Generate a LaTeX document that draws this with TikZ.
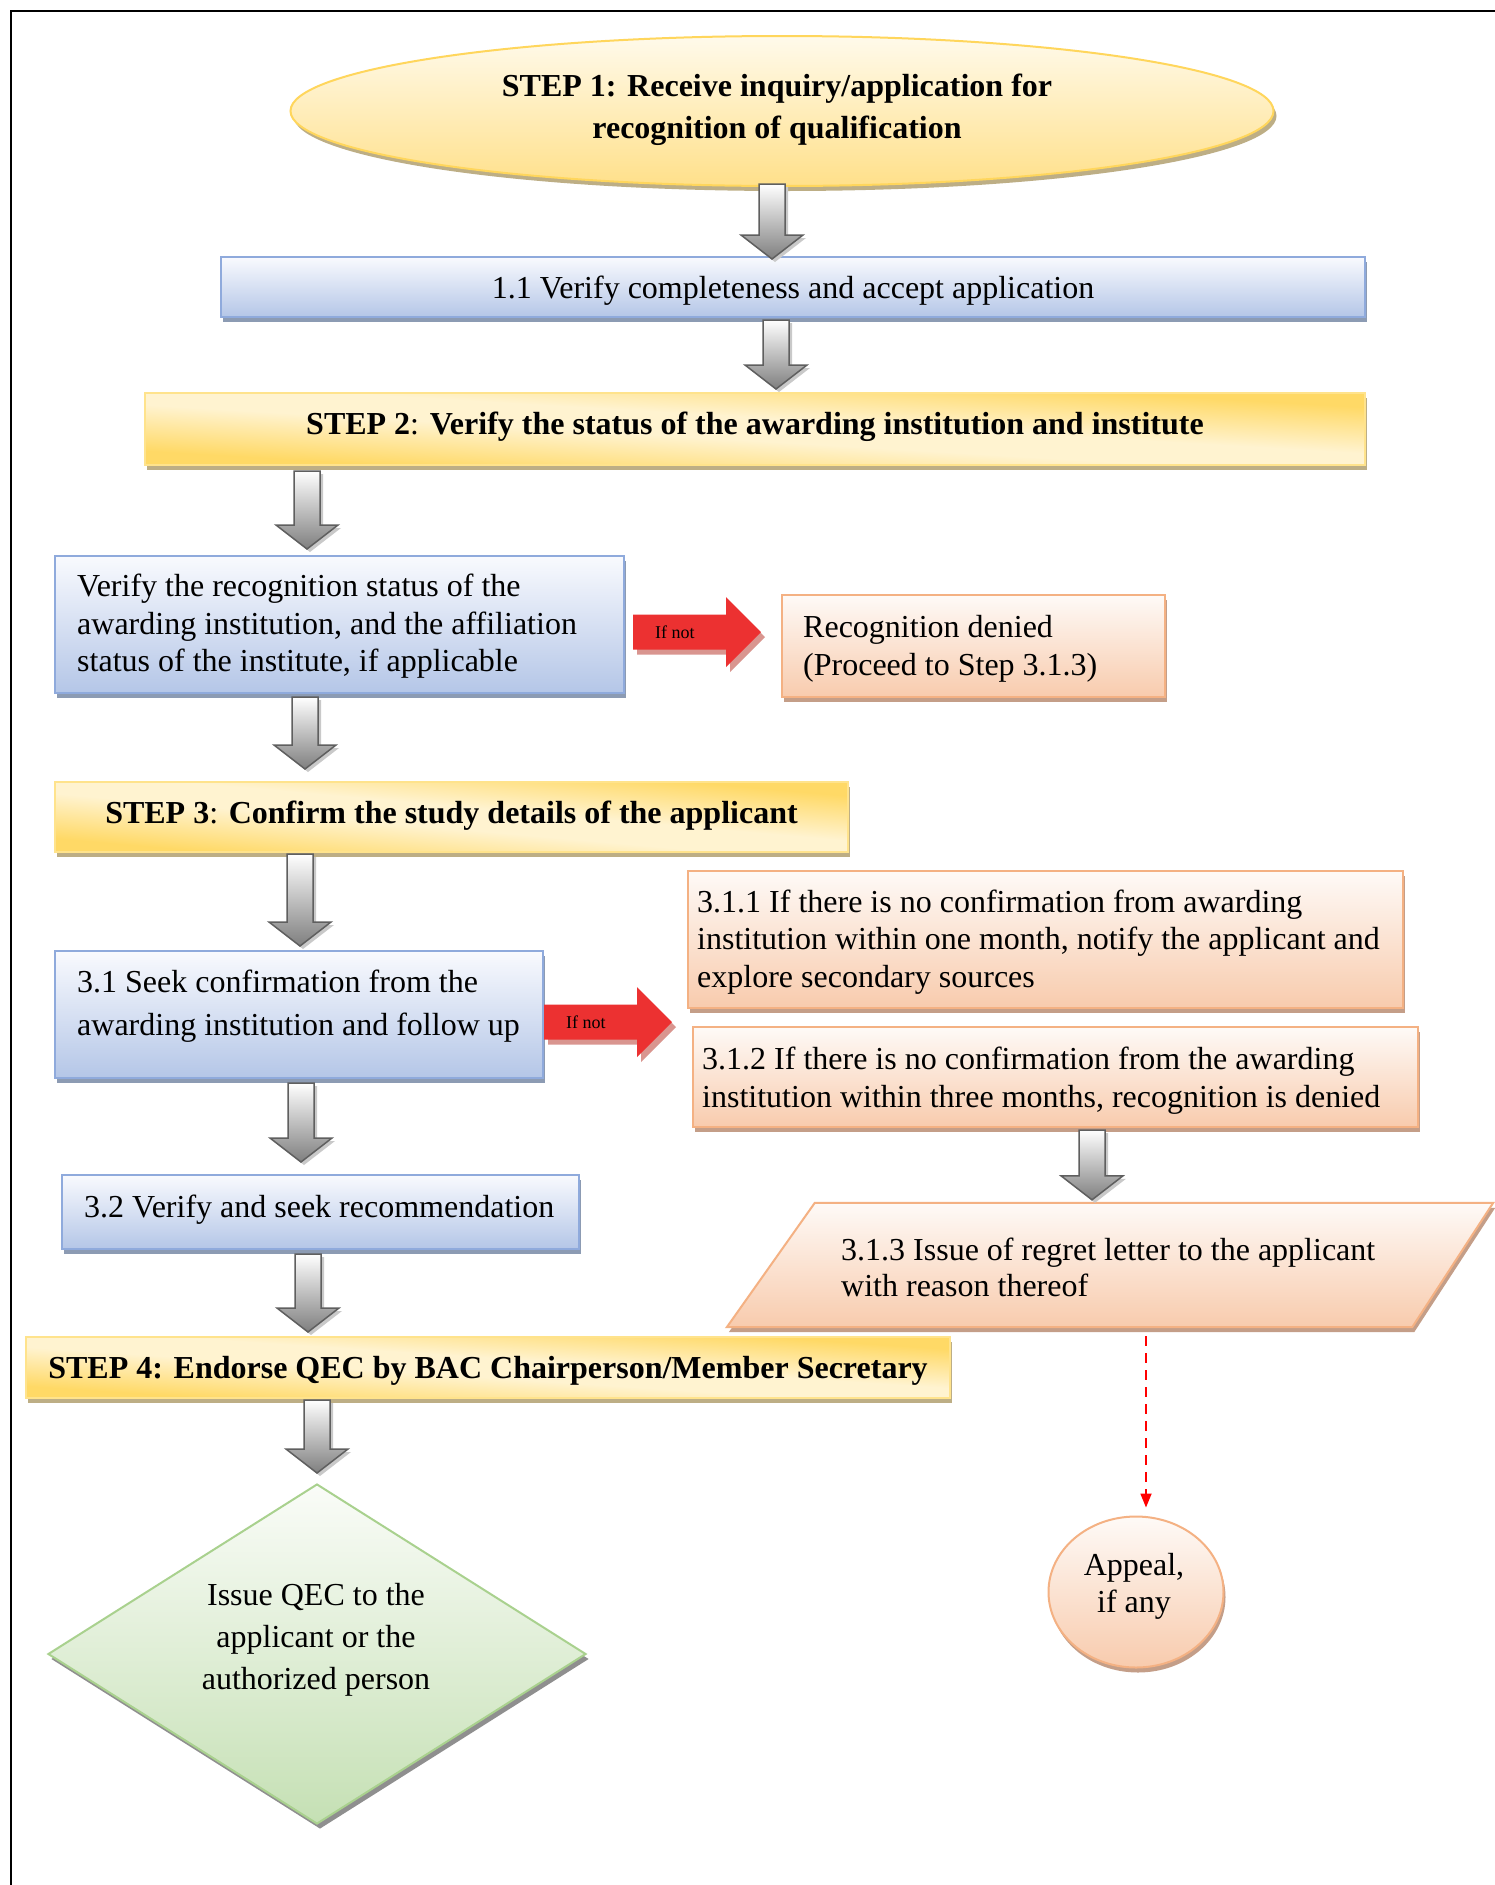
\documentclass[tikz,border=0pt]{standalone}
\usepackage{fontspec}
\setmainfont{Liberation Serif}
\usetikzlibrary{shapes.geometric,shadows,arrows.meta,calc}

\definecolor{ytop}{HTML}{FFFAEB}
\definecolor{ybot}{HTML}{FFE08A}
\definecolor{yline}{HTML}{FFD65C}
\definecolor{gold}{HTML}{FFD966}
\definecolor{pale}{HTML}{FFF3D0}
\definecolor{stepline}{HTML}{FFE38C}
\definecolor{tanshad}{HTML}{BDAE85}
\definecolor{btop}{HTML}{F9FAFE}
\definecolor{bbot}{HTML}{B4C6E7}
\definecolor{bline}{HTML}{8FAADC}
\definecolor{bshad}{HTML}{8C9BB3}
\definecolor{otop}{HTML}{FEFAF7}
\definecolor{obot}{HTML}{F8CBAD}
\definecolor{oline}{HTML}{F4B183}
\definecolor{oshad}{HTML}{C49E88}
\definecolor{grtop}{HTML}{FAFCF8}
\definecolor{grbot}{HTML}{C5E0B4}
\definecolor{grline}{HTML}{A9D18E}
\definecolor{grshad}{HTML}{8F8F8F}
\definecolor{redarr}{HTML}{EC3131}
\definecolor{rshad}{HTML}{D9958F}
\definecolor{arrline}{HTML}{5F5F5F}
\definecolor{arrbot}{HTML}{7F7F7F}
\definecolor{arrshad}{HTML}{C9C9C9}

\pgfdeclarelayer{bg}
\pgfsetlayers{bg,main}
\pgfdeclarehorizontalshading{stepsh}{100bp}{color(0bp)=(gold); color(25bp)=(gold); color(30bp)=(gold); color(46bp)=(pale); color(54bp)=(pale); color(70bp)=(gold); color(75bp)=(gold); color(100bp)=(gold)}

\tikzset{
  txt/.style={font=\fontsize{32}{37.5}\selectfont, inner sep=0pt, align=left},
  ctxt/.style={font=\fontsize{32}{42}\selectfont, inner sep=0pt, align=center},
  iftxt/.style={font=\fontsize{18}{20}\selectfont, inner sep=0pt},
  bluebox/.style={rectangle, draw=bline, line width=2pt, top color=btop, bottom color=bbot,
    inner sep=0pt, font=\fontsize{32}{37.5}\selectfont,
    drop shadow={shadow xshift=2pt, shadow yshift=-5pt, fill=bshad, opacity=1}},
  orangebox/.style={rectangle, draw=oline, line width=2pt, top color=otop, bottom color=obot,
    inner sep=0pt,
    drop shadow={shadow xshift=2pt, shadow yshift=-5pt, fill=oshad, opacity=1}},
  stepbox/.style={rectangle, draw=stepline, line width=2pt, inner sep=0pt,
    font=\fontsize{32}{37.5}\selectfont\bfseries},
  garr/.style={draw=arrline, line width=1.5pt, top color=white, bottom color=arrbot},
  dasharrow/.style={draw=red, line width=1.8pt, dash pattern=on 10pt off 7pt,
    -{Triangle[length=14pt,width=11pt]}},
}

% diagonal gold background + shadow of a step box: #1 cx, #2 cy, #3 w, #4 h
\newcommand\stepbg[4]{%
  \begin{pgfonlayer}{bg}
    \fill[tanshad] ({#1+2-#3/2},{#2-5-#4/2}) rectangle ({#1+2+#3/2},{#2-5+#4/2});
    \begin{scope}
      \clip ({#1-#3/2},{#2-#4/2}) rectangle ({#1+#3/2},{#2+#4/2});
      \shade[shading=stepsh, transform canvas={shift={(#1,#2)}, xscale=#3/100, yscale=#4/100, rotate=45}]
        (-71,-71) rectangle (71,71);
    \end{scope}
  \end{pgfonlayer}}

% gray block arrow: #1 x, #2 from node, #3 to node, #4 top offset, #5 gap before target
\newcommand\garrow[5]{%
  \fill[arrshad] let \p1=(#2.south), \p2=(#3.north) in
    ({#1pt-10pt},{\y1-(#4pt)-3pt}) -- ({#1pt+16pt},{\y1-(#4pt)-3pt}) --
    ({#1pt+16pt},{\y2+(#5pt)+21pt}) -- ({#1pt+34pt},{\y2+(#5pt)+21pt}) --
    ({#1pt+3pt},{\y2+(#5pt)-3pt}) -- ({#1pt-28pt},{\y2+(#5pt)+21pt}) --
    ({#1pt-10pt},{\y2+(#5pt)+21pt}) -- cycle;
  \path[garr] let \p1=(#2.south), \p2=(#3.north) in
    ({#1pt-13pt},{\y1-(#4pt)}) -- ({#1pt+13pt},{\y1-(#4pt)}) --
    ({#1pt+13pt},{\y2+(#5pt)+24pt}) -- ({#1pt+31pt},{\y2+(#5pt)+24pt}) --
    ({#1pt},{\y2+(#5pt)}) -- ({#1pt-31pt},{\y2+(#5pt)+24pt}) --
    ({#1pt-13pt},{\y2+(#5pt)+24pt}) -- cycle;
}

% red block arrow: #1 from, #2 to, #3 y, #4 start gap, #5 end gap, #6 label name
\newcommand\redarrow[6]{%
  \fill[rshad] let \p1=(#1.east), \p2=(#2.west) in
    ({\x1+#4pt+4pt},{#3pt+17.5pt-5pt}) -- ({\x2-#5pt-35pt+4pt},{#3pt+17.5pt-5pt}) --
    ({\x2-#5pt-35pt+4pt},{#3pt+35pt-5pt}) -- ({\x2-#5pt+4pt},{#3pt-5pt}) --
    ({\x2-#5pt-35pt+4pt},{#3pt-35pt-5pt}) -- ({\x2-#5pt-35pt+4pt},{#3pt-17.5pt-5pt}) --
    ({\x1+#4pt+4pt},{#3pt-17.5pt-5pt}) -- cycle;
  \fill[redarr] let \p1=(#1.east), \p2=(#2.west) in
    ({\x1+#4pt},{#3pt+17.5pt}) -- ({\x2-#5pt-35pt},{#3pt+17.5pt}) --
    ({\x2-#5pt-35pt},{#3pt+35pt}) -- ({\x2-#5pt},{#3pt}) --
    ({\x2-#5pt-35pt},{#3pt-35pt}) -- ({\x2-#5pt-35pt},{#3pt-17.5pt}) --
    ({\x1+#4pt},{#3pt-17.5pt}) -- cycle;
  \path let \p1=(#1.east) in node[iftxt, anchor=west] (#6) at ({\x1+#4pt+22pt},{#3pt}) {If not};
}

\begin{document}
\begin{tikzpicture}[x=1pt,y=1pt]
\useasboundingbox (0,0) rectangle (1495,-1885);
\begin{pgfonlayer}{bg}
\fill[white] (0,0) rectangle (1495,-1885);
\end{pgfonlayer}
\draw[line width=2.5pt] (11,-1885) -- (11,-11) -- (1495,-11);

% STEP 1
\node[ellipse, draw=yline, line width=2pt, top color=ytop, bottom color=ybot,
  minimum width=983, minimum height=150, inner sep=0pt,
  drop shadow={shadow xshift=3pt, shadow yshift=-5pt, fill=tanshad, opacity=1}]
  (e1) at (782,-111) {};
\node[ctxt, font=\fontsize{32}{42}\selectfont\bfseries] (e1t) at (777,-110)
  {STEP 1: Receive inquiry/application for\\recognition of qualification};

% 1.1
\node[bluebox, minimum width=1144, minimum height=60, text height=29pt, text depth=7pt] (b11) at (793,-287)
  {1.1 Verify completeness and accept application};

% STEP 2
\stepbg{755}{-429}{1220}{72}
\node[stepbox, minimum width=1220, minimum height=72, text height=22pt, text depth=12pt] (s2) at (755,-429)
  {STEP 2{\mdseries:} Verify the status of the awarding institution and institute};

% verify recognition
\node[bluebox, minimum width=569, minimum height=137] (v) at (339.5,-624.5) {};
\node[txt, anchor=west] (vt) at (77,-626.5)
  {Verify the recognition status of the\\awarding institution, and the affiliation\\status of the institute, if applicable};

% recognition denied
\node[orangebox, minimum width=383, minimum height=102] (rd) at (973.5,-646) {};
\node[txt, anchor=west, font=\fontsize{32}{38}\selectfont] (rdt) at (803,-648.5)
  {Recognition denied\\(Proceed to Step 3.1.3)};

% STEP 3
\stepbg{451.5}{-817}{793}{70}
\node[stepbox, minimum width=793, minimum height=70, text height=22pt, text depth=10pt] (s3) at (451.5,-817)
  {STEP 3{\mdseries:} Confirm the study details of the applicant};

% 3.1
\node[bluebox, minimum width=488, minimum height=127] (b31) at (299,-1014.5) {};
\node[txt, anchor=west, font=\fontsize{32}{43}\selectfont] (b31t) at (77,-1006.5)
  {3.1 Seek confirmation from the\\awarding institution and follow up};

% 3.1.1
\node[orangebox, minimum width=715, minimum height=137] (b311) at (1045.5,-939.5) {};
\node[txt, anchor=west] (b311t) at (697,-942)
  {3.1.1 If there is no confirmation from awarding\\institution within one month, notify the applicant and\\explore secondary sources};

% 3.1.2
\node[orangebox, minimum width=725, minimum height=100] (b312) at (1055.5,-1077) {};
\node[txt, anchor=west] (b312t) at (702,-1080.5)
  {3.1.2 If there is no confirmation from the awarding\\institution within three months, recognition is denied};

% 3.1.3 (parallelogram)
\node[inner sep=0pt, minimum width=766, minimum height=124] (p313) at (1110,-1265) {};
\fill[oshad] ([xshift=90pt,yshift=-5pt]p313.north west) -- ([xshift=2pt,yshift=-5pt]p313.north east)
  -- ([xshift=-79pt,yshift=-5pt]p313.south east) -- ([xshift=2pt,yshift=-5pt]p313.south west) -- cycle;
\path[draw=oline, line width=2pt, top color=otop, bottom color=obot]
  ([xshift=88pt]p313.north west) -- (p313.north east)
  -- ([xshift=-81pt]p313.south east) -- (p313.south west) -- cycle;
\node[txt, anchor=west, font=\fontsize{32}{36}\selectfont] (p313t) at (841,-1267)
  {3.1.3 Issue of regret letter to the applicant\\with reason thereof};

% 3.2
\node[bluebox, minimum width=517, minimum height=74] (b32) at (320.5,-1212) {};
\node[txt, anchor=west] (b32t) at (84,-1209.5) {3.2 Verify and seek recommendation};

% STEP 4
\stepbg{488}{-1367.5}{924}{61}
\node[stepbox, minimum width=924, minimum height=61, text height=29pt, text depth=7pt] (s4) at (488,-1367.5)
  {STEP 4: Endorse QEC by BAC Chairperson/Member Secretary};

% diamond
\node[diamond, draw=grline, line width=2pt, top color=grtop, bottom color=grbot,
  minimum width=538, minimum height=340, inner sep=0pt,
  drop shadow={shadow xshift=3pt, shadow yshift=-5pt, fill=grshad, opacity=1}]
  (d) at (317,-1654) {};
\node[ctxt] (dt) at (316,-1639.5) {Issue QEC to the\\applicant or the\\authorized person};

% appeal
\node[ellipse, draw=oline, line width=2pt, top color=otop, bottom color=obot,
  minimum width=175, minimum height=151, inner sep=0pt,
  drop shadow={shadow xshift=2pt, shadow yshift=-5pt, fill=oshad, opacity=1}]
  (ap) at (1136,-1592) {};
\node[ctxt, font=\fontsize{32}{37}\selectfont] (apt) at (1134,-1586.5) {Appeal,\\if any};

% gray arrows
\garrow{772}{e1}{b11}{-3}{-3}
\garrow{776}{b11}{s2}{2}{3}
\garrow{307}{s2}{v}{5}{6}
\garrow{305}{v}{s3}{3}{12}
\garrow{300}{s3}{b31}{1}{4}
\garrow{301}{b31}{b32}{4}{12}
\garrow{308}{b32}{s4}{4}{4}
\garrow{317}{s4}{d}{1}{10}
\garrow{1092}{b312}{p313}{2}{3}

% red arrows
\redarrow{v}{rd}{-632}{8}{20}{ifa}
\redarrow{b31}{b311}{-1022}{0}{15}{ifb}

% dashed arrow
\draw[dasharrow] let \p1=(p313.south), \p2=(ap.north) in (1146pt,{\y1-9pt}) -- (1146pt,{\y2+8pt});
\end{tikzpicture}
\end{document}
